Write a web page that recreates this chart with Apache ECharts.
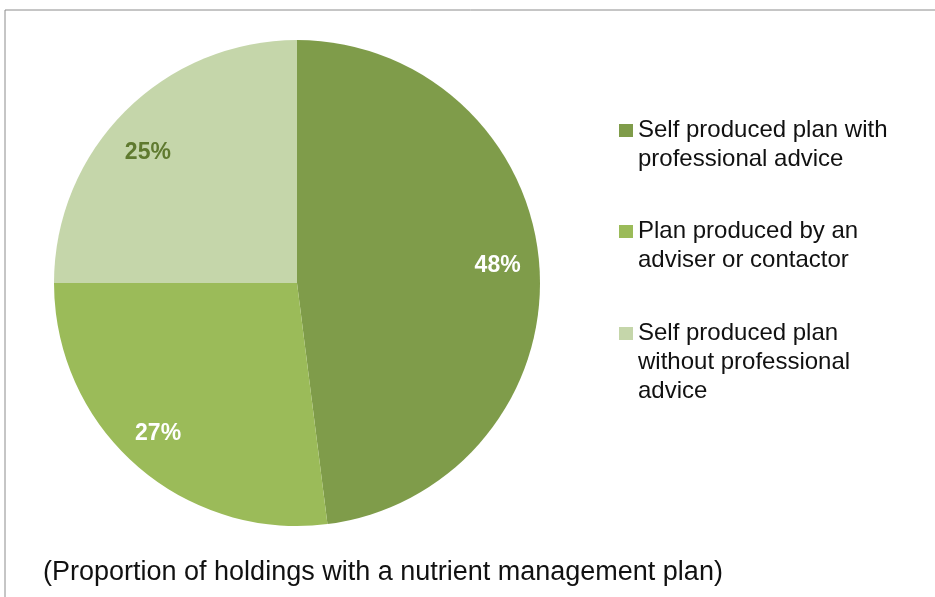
<!DOCTYPE html>
<html>
<head>
<meta charset="utf-8">
<script src="https://cdn.jsdelivr.net/npm/echarts@6/dist/echarts.min.js"></script>
<style>
html, body { margin: 0; padding: 0; background: #fff; }
#main { width: 935px; height: 597px; }
</style>
</head>
<body>
<div id="main"></div>
<script>
// categories and shares (%)
var categories = [
	'Self produced plan with\nprofessional advice',
	'Plan produced by an\nadviser or contactor',
	'Self produced plan\nwithout professional\nadvice'
];
var shares = [48, 27, 25];
var colors = ['#7f9c4a', '#9bbb59', '#c5d6aa'];
var labelColors = ['#ffffff', '#ffffff', '#5f7a2f'];
// small nudges so the % labels sit where the original put them
var labelOffsets = [[0, -5], [-6, 0], [-7, 12]];

var myChart = echarts.init(document.getElementById('main'));

var lineH = 29;
var pieData = categories.map(function (c, i) {
	return { name: c, value: shares[i], itemStyle: { color: colors[i] } };
});
var labelData = categories.map(function (c, i) {
	return {
		name: c, value: shares[i],
		itemStyle: { color: 'rgba(0,0,0,0)' },
		label: { color: labelColors[i], offset: labelOffsets[i] }
	};
});

// one legend per item; blank lines on top keep the icon beside the first line
var legendTops = [87, 188, 261];
var legends = categories.map(function (c, i) {
	var n = c.split('\n').length;
	return {
		orient: 'vertical',
		left: 619,
		top: legendTops[i],
		padding: 0,
		icon: 'rect',
		itemWidth: 14,
		itemHeight: 13,
		itemGap: 0,
		data: [c],
		selectedMode: false,
		formatter: function (name) {
			var pre = '';
			for (var k = 1; k < n; k++) pre += ' \n';
			return pre + name;
		},
		textStyle: {
			fontFamily: 'Liberation Sans, Arial, sans-serif',
			fontSize: 24,
			color: '#111',
			lineHeight: lineH
		}
	};
});

var option = {
	animation: false,
	backgroundColor: '#fff',
	title: {
		text: '(Proportion of holdings with a nutrient management plan)',
		left: 38,
		top: 554,
		textStyle: {
			fontFamily: 'Liberation Sans, Arial, sans-serif',
			fontWeight: 'normal',
			fontSize: 27,
			color: '#111'
		}
	},
	graphic: [{
		type: 'rect',
		shape: { x: 5, y: 10, width: 960, height: 620 },
		style: { fill: 'none', stroke: '#8c8c8c', lineWidth: 1 },
		silent: true
	}],
	legend: legends,
	series: [{
		name: 'share',
		type: 'pie',
		center: [297, 283],
		radius: [0, 243],
		startAngle: 90,
		clockwise: true,
		silent: true,
		label: { show: false },
		labelLine: { show: false },
		itemStyle: { borderWidth: 0 },
		data: pieData
	}, {
		name: 'labels',
		type: 'pie',
		center: [297, 283],
		radius: [153, 243],
		startAngle: 90,
		clockwise: true,
		silent: true,
		legendHoverLink: false,
		label: {
			show: true,
			position: 'inside',
			formatter: '{c}%',
			fontFamily: 'Liberation Sans, Arial, sans-serif',
			fontWeight: 'bold',
			fontSize: 23
		},
		labelLine: { show: false },
		itemStyle: { borderWidth: 0 },
		data: labelData
	}]
};
myChart.setOption(option);
</script>
</body>
</html>
